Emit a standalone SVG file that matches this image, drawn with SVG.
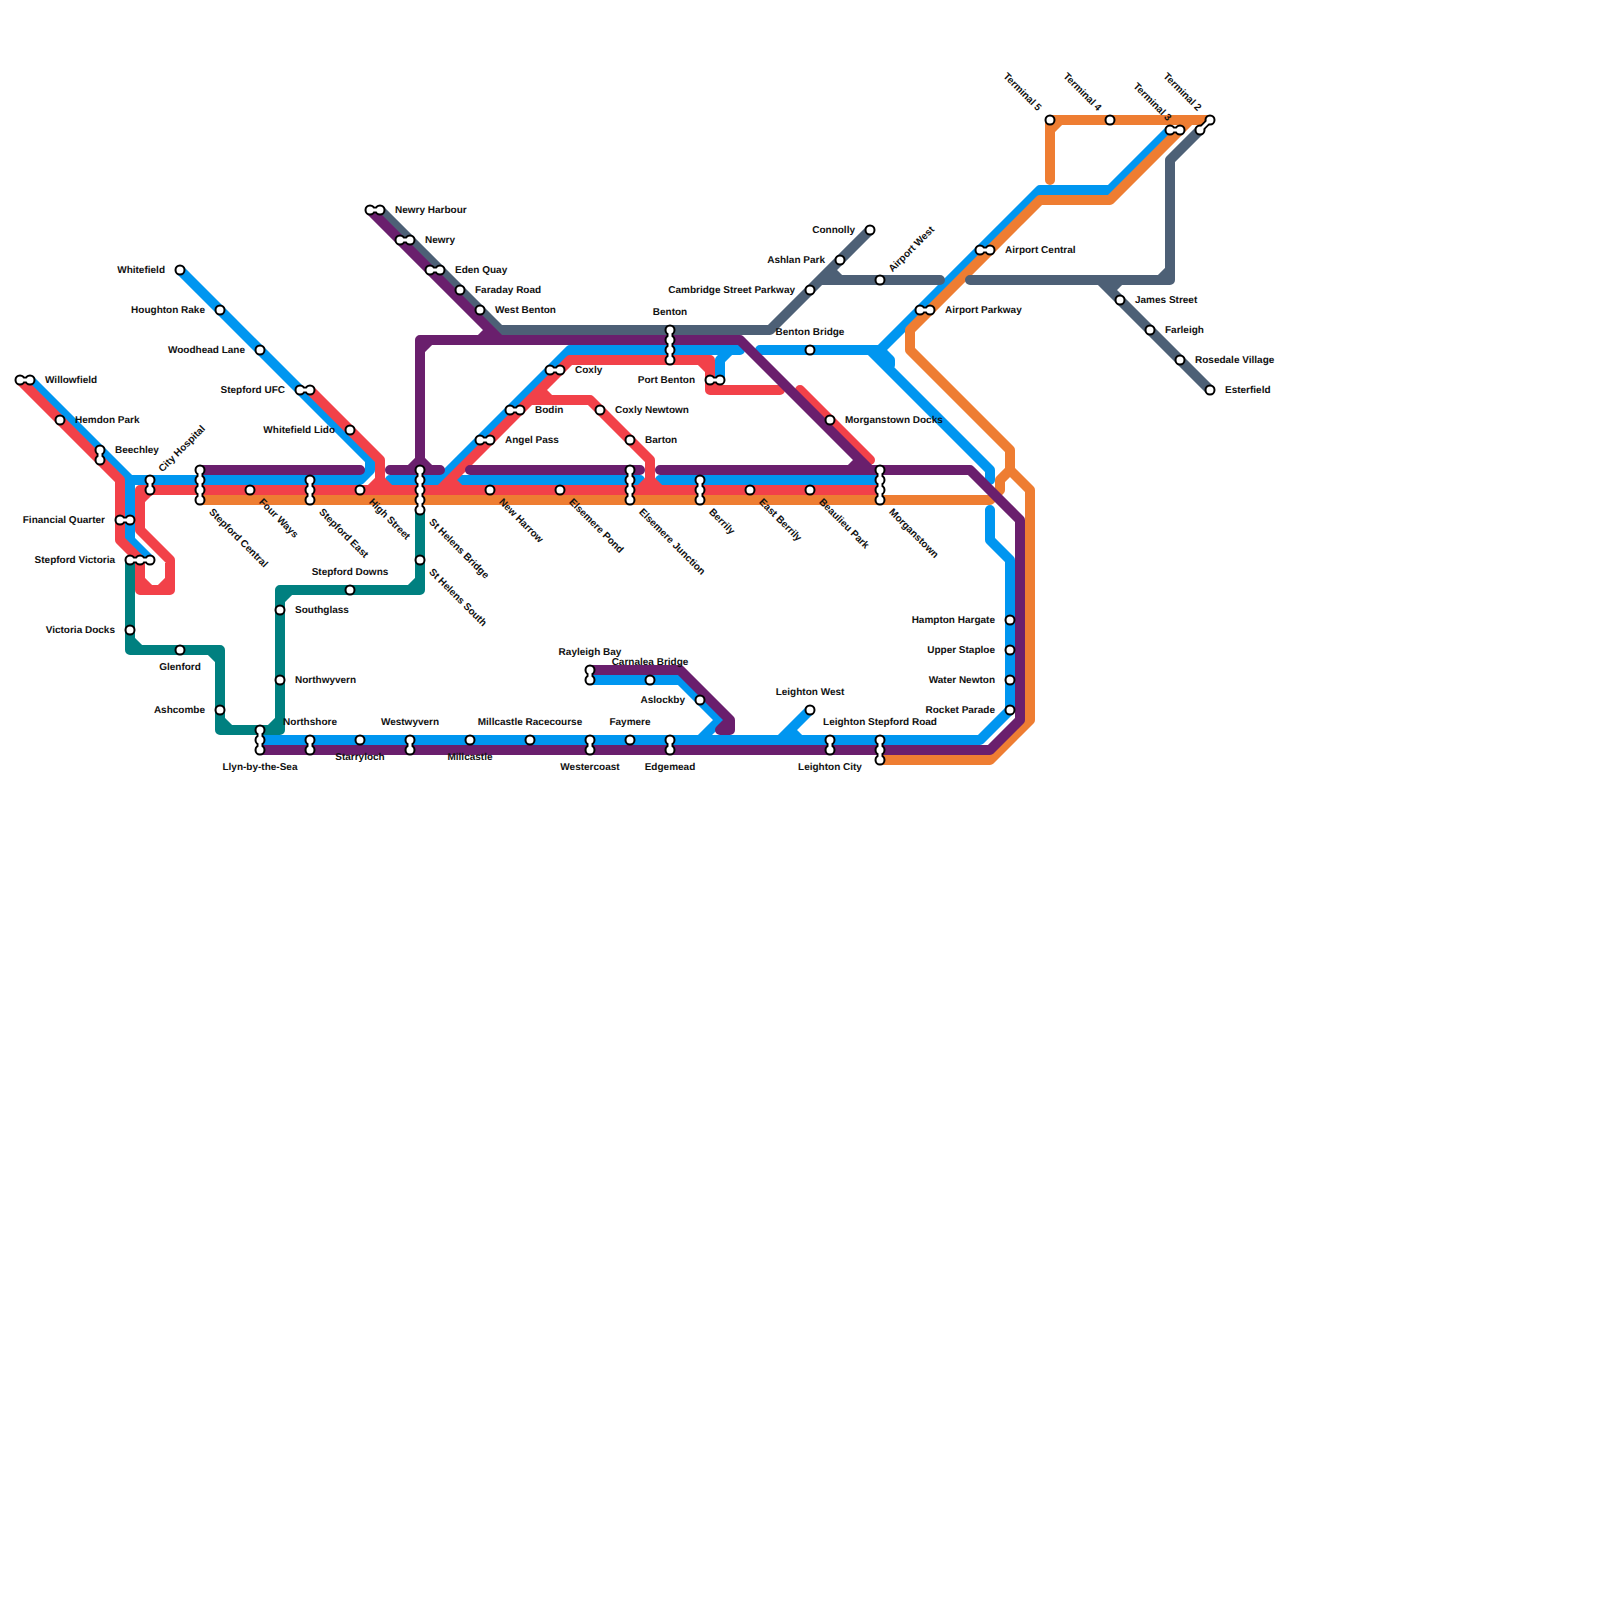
<svg xmlns="http://www.w3.org/2000/svg" width="1600" height="1600" viewBox="0 0 1600 1600">
<style>
.l{fill:none;stroke-width:10;stroke-linecap:round;stroke-linejoin:round}
.teal{stroke:#008080}.blue{stroke:#0096f0}.orange{stroke:#ee7d32}.red{stroke:#f24149}.slate{stroke:#4d6076}.purple{stroke:#6a1f6d}
.s{fill:#fff;stroke:#000;stroke-width:2}
.nb{fill:none;stroke:#000;stroke-width:6.5;stroke-linecap:round}
.nw{fill:none;stroke:#fff;stroke-width:3;stroke-linecap:round}
text{font-family:"Liberation Sans",Arial,sans-serif;font-size:10px;font-weight:700;fill:#111;text-rendering:geometricPrecision}
text:not([transform]){transform:translateY(-.5px)}
.m{text-anchor:middle}.e{text-anchor:end}
</style>
<rect width="1600" height="1600" fill="#fff"/>
<g id="connectors">
<path class="l teal" d="M130,560V650H220V730H280V590H420V510M130,640L140,650M210,650L220,660M220,720L230,730M270,730L280,720M280,600L290,590M410,590L420,580"/>
<path class="l blue" d="M30,380L130,480H360L370,470V460L180,270M130,480V540L150,560M390,480H440L570,350H740M720,380V360L730,350M460,480H640M660,480H880M760,350H880L1040,190H1110L1170,130M870,350L990,470V480M880,350L890,360V365M990,510V540L1010,560V710L980,740H260M590,680H680L720,720L700,740M810,710L780,740M790,730L800,740"/>
<path class="l orange" d="M200,500H990L1000,490V480L1010,470V450L910,350V330L1040,200H1110L1190,120M1010,470L1030,490V720L990,760H880M1050,180V120H1210M1050,130L1060,120"/>
<path class="l red" d="M20,380L120,480V540L140,560V590H170V560L140,530V490H880M140,500L150,490M140,580L150,590M160,590L170,580M310,390L380,460V490M380,480L370,490M380,480L390,490M440,490L570,360H710V390H780M450,480L460,490M700,360L710,370M710,380L720,390M530,400H590L650,460V490M540,390L550,400M650,480L640,490M650,480L660,490M800,390L870,460"/>
<path class="l slate" d="M380,210L500,330H770L870,230M820,280H940M830,270L840,280M970,280H1170V160L1200,130M1160,280L1170,270M1100,280L1210,390M1120,280L1110,290"/>
<path class="l purple" d="M200,470H360M390,470H440M420,470V340H740L870,470M410,470L420,460L430,470M420,350L430,340M370,210L500,340M490,330L480,340M470,470H640M660,470H970L1020,520V720L990,750H260M860,460L850,470M590,670H680L730,720V730H720L730,720"/>
</g>
<g id="stations">
<g id="willowfield"><path class="nb" d="M20,380H30"/><circle class="s" cx="20" cy="380" r="4.5"/><circle class="s" cx="30" cy="380" r="4.5"/><path class="nw" d="M20,380H30"/><text x="45" y="383">Willowfield</text></g>
<g id="hemdon-park"><circle class="s" cx="60" cy="420" r="4.5"/><text x="75" y="423">Hemdon Park</text></g>
<g id="beechley"><path class="nb" d="M100,450V460"/><circle class="s" cx="100" cy="450" r="4.5"/><circle class="s" cx="100" cy="460" r="4.5"/><path class="nw" d="M100,450V460"/><text x="115" y="453">Beechley</text></g>
<g id="city-hospital"><path class="nb" d="M150,480V490"/><circle class="s" cx="150" cy="480" r="4.5"/><circle class="s" cx="150" cy="490" r="4.5"/><path class="nw" d="M150,480V490"/><text transform="translate(162.500,472.500) rotate(-45)">City Hospital</text></g>
<g id="financial-quarter"><path class="nb" d="M120,520H130"/><circle class="s" cx="120" cy="520" r="4.5"/><circle class="s" cx="130" cy="520" r="4.5"/><path class="nw" d="M120,520H130"/><text class="e" x="105" y="523">Financial Quarter</text></g>
<g id="stepford-victoria"><path class="nb" d="M130,560H150"/><circle class="s" cx="130" cy="560" r="4.5"/><circle class="s" cx="140" cy="560" r="4.5"/><circle class="s" cx="150" cy="560" r="4.5"/><path class="nw" d="M130,560H150"/><text class="e" x="115" y="563">Stepford Victoria</text></g>
<g id="victoria-docks"><circle class="s" cx="130" cy="630" r="4.5"/><text class="e" x="115" y="633">Victoria Docks</text></g>
<g id="glenford"><circle class="s" cx="180" cy="650" r="4.5"/><text class="m" x="180" y="670">Glenford</text></g>
<g id="ashcombe"><circle class="s" cx="220" cy="710" r="4.5"/><text class="e" x="205" y="713">Ashcombe</text></g>
<g id="whitefield"><circle class="s" cx="180" cy="270" r="4.5"/><text class="e" x="165" y="273">Whitefield</text></g>
<g id="houghton-rake"><circle class="s" cx="220" cy="310" r="4.5"/><text class="e" x="205" y="313">Houghton Rake</text></g>
<g id="woodhead-lane"><circle class="s" cx="260" cy="350" r="4.5"/><text class="e" x="245" y="353">Woodhead Lane</text></g>
<g id="stepford-ufc"><path class="nb" d="M300,390H310"/><circle class="s" cx="300" cy="390" r="4.5"/><circle class="s" cx="310" cy="390" r="4.5"/><path class="nw" d="M300,390H310"/><text class="e" x="285" y="393">Stepford UFC</text></g>
<g id="whitefield-lido"><circle class="s" cx="350" cy="430" r="4.5"/><text class="e" x="335" y="433">Whitefield Lido</text></g>
<g id="stepford-central"><path class="nb" d="M200,470V500"/><circle class="s" cx="200" cy="470" r="4.5"/><circle class="s" cx="200" cy="480" r="4.5"/><circle class="s" cx="200" cy="490" r="4.5"/><circle class="s" cx="200" cy="500" r="4.5"/><path class="nw" d="M200,470V500"/><text transform="translate(208.500,512.500) rotate(45)">Stepford Central</text></g>
<g id="four-ways"><circle class="s" cx="250" cy="490" r="4.5"/><text transform="translate(258.500,502.500) rotate(45)">Four Ways</text></g>
<g id="stepford-east"><path class="nb" d="M310,480V500"/><circle class="s" cx="310" cy="480" r="4.5"/><circle class="s" cx="310" cy="490" r="4.5"/><circle class="s" cx="310" cy="500" r="4.5"/><path class="nw" d="M310,480V500"/><text transform="translate(318.500,512.500) rotate(45)">Stepford East</text></g>
<g id="high-street"><circle class="s" cx="360" cy="490" r="4.5"/><text transform="translate(368.500,502.500) rotate(45)">High Street</text></g>
<g id="st-helens-bridge"><path class="nb" d="M420,470V510"/><circle class="s" cx="420" cy="470" r="4.5"/><circle class="s" cx="420" cy="480" r="4.5"/><circle class="s" cx="420" cy="490" r="4.5"/><circle class="s" cx="420" cy="500" r="4.5"/><circle class="s" cx="420" cy="510" r="4.5"/><path class="nw" d="M420,470V510"/><text transform="translate(428.500,522.500) rotate(45)">St Helens Bridge</text></g>
<g id="st-helens-south"><circle class="s" cx="420" cy="560" r="4.5"/><text transform="translate(428.500,572.500) rotate(45)">St Helens South</text></g>
<g id="stepford-downs"><circle class="s" cx="350" cy="590" r="4.5"/><text class="m" x="350" y="575">Stepford Downs</text></g>
<g id="southglass"><circle class="s" cx="280" cy="610" r="4.5"/><text x="295" y="613">Southglass</text></g>
<g id="northwyvern"><circle class="s" cx="280" cy="680" r="4.5"/><text x="295" y="683">Northwyvern</text></g>
<g id="llyn-by-the-sea"><path class="nb" d="M260,730V750"/><circle class="s" cx="260" cy="730" r="4.5"/><circle class="s" cx="260" cy="740" r="4.5"/><circle class="s" cx="260" cy="750" r="4.5"/><path class="nw" d="M260,730V750"/><text class="m" x="260" y="770">Llyn-by-the-Sea</text></g>
<g id="northshore"><path class="nb" d="M310,740V750"/><circle class="s" cx="310" cy="740" r="4.5"/><circle class="s" cx="310" cy="750" r="4.5"/><path class="nw" d="M310,740V750"/><text class="m" x="310" y="725">Northshore</text></g>
<g id="starryloch"><circle class="s" cx="360" cy="740" r="4.5"/><text class="m" x="360" y="760">Starryloch</text></g>
<g id="westwyvern"><path class="nb" d="M410,740V750"/><circle class="s" cx="410" cy="740" r="4.5"/><circle class="s" cx="410" cy="750" r="4.5"/><path class="nw" d="M410,740V750"/><text class="m" x="410" y="725">Westwyvern</text></g>
<g id="millcastle"><circle class="s" cx="470" cy="740" r="4.5"/><text class="m" x="470" y="760">Millcastle</text></g>
<g id="millcastle-racecourse"><circle class="s" cx="530" cy="740" r="4.5"/><text class="m" x="530" y="725">Millcastle Racecourse</text></g>
<g id="westercoast"><path class="nb" d="M590,740V750"/><circle class="s" cx="590" cy="740" r="4.5"/><circle class="s" cx="590" cy="750" r="4.5"/><path class="nw" d="M590,740V750"/><text class="m" x="590" y="770">Westercoast</text></g>
<g id="faymere"><circle class="s" cx="630" cy="740" r="4.5"/><text class="m" x="630" y="725">Faymere</text></g>
<g id="edgemead"><path class="nb" d="M670,740V750"/><circle class="s" cx="670" cy="740" r="4.5"/><circle class="s" cx="670" cy="750" r="4.5"/><path class="nw" d="M670,740V750"/><text class="m" x="670" y="770">Edgemead</text></g>
<g id="leighton-city"><path class="nb" d="M830,740V750"/><circle class="s" cx="830" cy="740" r="4.5"/><circle class="s" cx="830" cy="750" r="4.5"/><path class="nw" d="M830,740V750"/><text class="m" x="830" y="770">Leighton City</text></g>
<g id="leighton-stepford-road"><path class="nb" d="M880,740V760"/><circle class="s" cx="880" cy="740" r="4.5"/><circle class="s" cx="880" cy="750" r="4.5"/><circle class="s" cx="880" cy="760" r="4.5"/><path class="nw" d="M880,740V760"/><text class="m" x="880" y="725">Leighton Stepford Road</text></g>
<g id="leighton-west"><circle class="s" cx="810" cy="710" r="4.5"/><text class="m" x="810" y="695">Leighton West</text></g>
<g id="rayleigh-bay"><path class="nb" d="M590,670V680"/><circle class="s" cx="590" cy="670" r="4.5"/><circle class="s" cx="590" cy="680" r="4.5"/><path class="nw" d="M590,670V680"/><text class="m" x="590" y="655">Rayleigh Bay</text></g>
<g id="carnalea-bridge"><circle class="s" cx="650" cy="680" r="4.5"/><text class="m" x="650" y="665">Carnalea Bridge</text></g>
<g id="aslockby"><circle class="s" cx="700" cy="700" r="4.5"/><text class="e" x="685" y="703">Aslockby</text></g>
<g id="hampton-hargate"><circle class="s" cx="1010" cy="620" r="4.5"/><text class="e" x="995" y="623">Hampton Hargate</text></g>
<g id="upper-staploe"><circle class="s" cx="1010" cy="650" r="4.5"/><text class="e" x="995" y="653">Upper Staploe</text></g>
<g id="water-newton"><circle class="s" cx="1010" cy="680" r="4.5"/><text class="e" x="995" y="683">Water Newton</text></g>
<g id="rocket-parade"><circle class="s" cx="1010" cy="710" r="4.5"/><text class="e" x="995" y="713">Rocket Parade</text></g>
<g id="newry-harbour"><path class="nb" d="M370,210H380"/><circle class="s" cx="370" cy="210" r="4.5"/><circle class="s" cx="380" cy="210" r="4.5"/><path class="nw" d="M370,210H380"/><text x="395" y="213">Newry Harbour</text></g>
<g id="newry"><path class="nb" d="M400,240H410"/><circle class="s" cx="400" cy="240" r="4.5"/><circle class="s" cx="410" cy="240" r="4.5"/><path class="nw" d="M400,240H410"/><text x="425" y="243">Newry</text></g>
<g id="eden-quay"><path class="nb" d="M430,270H440"/><circle class="s" cx="430" cy="270" r="4.5"/><circle class="s" cx="440" cy="270" r="4.5"/><path class="nw" d="M430,270H440"/><text x="455" y="273">Eden Quay</text></g>
<g id="faraday-road"><circle class="s" cx="460" cy="290" r="4.5"/><text x="475" y="293">Faraday Road</text></g>
<g id="west-benton"><circle class="s" cx="480" cy="310" r="4.5"/><text x="495" y="313">West Benton</text></g>
<g id="benton"><path class="nb" d="M670,330V360"/><circle class="s" cx="670" cy="330" r="4.5"/><circle class="s" cx="670" cy="340" r="4.5"/><circle class="s" cx="670" cy="350" r="4.5"/><circle class="s" cx="670" cy="360" r="4.5"/><path class="nw" d="M670,330V360"/><text class="m" x="670" y="315">Benton</text></g>
<g id="coxly"><path class="nb" d="M550,370H560"/><circle class="s" cx="550" cy="370" r="4.5"/><circle class="s" cx="560" cy="370" r="4.5"/><path class="nw" d="M550,370H560"/><text x="575" y="373">Coxly</text></g>
<g id="bodin"><path class="nb" d="M510,410H520"/><circle class="s" cx="510" cy="410" r="4.5"/><circle class="s" cx="520" cy="410" r="4.5"/><path class="nw" d="M510,410H520"/><text x="535" y="413">Bodin</text></g>
<g id="angel-pass"><path class="nb" d="M480,440H490"/><circle class="s" cx="480" cy="440" r="4.5"/><circle class="s" cx="490" cy="440" r="4.5"/><path class="nw" d="M480,440H490"/><text x="505" y="443">Angel Pass</text></g>
<g id="coxly-newtown"><circle class="s" cx="600" cy="410" r="4.5"/><text x="615" y="413">Coxly Newtown</text></g>
<g id="barton"><circle class="s" cx="630" cy="440" r="4.5"/><text x="645" y="443">Barton</text></g>
<g id="new-harrow"><circle class="s" cx="490" cy="490" r="4.5"/><text transform="translate(498.500,502.500) rotate(45)">New Harrow</text></g>
<g id="elsemere-pond"><circle class="s" cx="560" cy="490" r="4.5"/><text transform="translate(568.500,502.500) rotate(45)">Elsemere Pond</text></g>
<g id="elsemere-junction"><path class="nb" d="M630,470V500"/><circle class="s" cx="630" cy="470" r="4.5"/><circle class="s" cx="630" cy="480" r="4.5"/><circle class="s" cx="630" cy="490" r="4.5"/><circle class="s" cx="630" cy="500" r="4.5"/><path class="nw" d="M630,470V500"/><text transform="translate(638.500,512.500) rotate(45)">Elsemere Junction</text></g>
<g id="berrily"><path class="nb" d="M700,480V500"/><circle class="s" cx="700" cy="480" r="4.5"/><circle class="s" cx="700" cy="490" r="4.5"/><circle class="s" cx="700" cy="500" r="4.5"/><path class="nw" d="M700,480V500"/><text transform="translate(708.500,512.500) rotate(45)">Berrily</text></g>
<g id="east-berrily"><circle class="s" cx="750" cy="490" r="4.5"/><text transform="translate(758.500,502.500) rotate(45)">East Berrily</text></g>
<g id="beaulieu-park"><circle class="s" cx="810" cy="490" r="4.5"/><text transform="translate(818.500,502.500) rotate(45)">Beaulieu Park</text></g>
<g id="morganstown"><path class="nb" d="M880,470V500"/><circle class="s" cx="880" cy="470" r="4.5"/><circle class="s" cx="880" cy="480" r="4.5"/><circle class="s" cx="880" cy="490" r="4.5"/><circle class="s" cx="880" cy="500" r="4.5"/><path class="nw" d="M880,470V500"/><text transform="translate(888.500,512.500) rotate(45)">Morganstown</text></g>
<g id="port-benton"><path class="nb" d="M710,380H720"/><circle class="s" cx="710" cy="380" r="4.5"/><circle class="s" cx="720" cy="380" r="4.5"/><path class="nw" d="M710,380H720"/><text class="e" x="695" y="383">Port Benton</text></g>
<g id="benton-bridge"><circle class="s" cx="810" cy="350" r="4.5"/><text class="m" x="810" y="335">Benton Bridge</text></g>
<g id="cambridge-street-parkway"><circle class="s" cx="810" cy="290" r="4.5"/><text class="e" x="795" y="293">Cambridge Street Parkway</text></g>
<g id="ashlan-park"><circle class="s" cx="840" cy="260" r="4.5"/><text class="e" x="825" y="263">Ashlan Park</text></g>
<g id="connolly"><circle class="s" cx="870" cy="230" r="4.5"/><text class="e" x="855" y="233">Connolly</text></g>
<g id="airport-west"><circle class="s" cx="880" cy="280" r="4.5"/><text transform="translate(892.500,272.500) rotate(-45)">Airport West</text></g>
<g id="morganstown-docks"><circle class="s" cx="830" cy="420" r="4.5"/><text x="845" y="423">Morganstown Docks</text></g>
<g id="airport-parkway"><path class="nb" d="M920,310H930"/><circle class="s" cx="920" cy="310" r="4.5"/><circle class="s" cx="930" cy="310" r="4.5"/><path class="nw" d="M920,310H930"/><text x="945" y="313">Airport Parkway</text></g>
<g id="airport-central"><path class="nb" d="M980,250H990"/><circle class="s" cx="980" cy="250" r="4.5"/><circle class="s" cx="990" cy="250" r="4.5"/><path class="nw" d="M980,250H990"/><text x="1005" y="253">Airport Central</text></g>
<g id="terminal-5"><circle class="s" cx="1050" cy="120" r="4.5"/><text class="e" transform="translate(1037.500,111.500) rotate(45)">Terminal 5</text></g>
<g id="terminal-4"><circle class="s" cx="1110" cy="120" r="4.5"/><text class="e" transform="translate(1097.500,111.500) rotate(45)">Terminal 4</text></g>
<g id="terminal-3"><path class="nb" d="M1170,130H1180"/><circle class="s" cx="1170" cy="130" r="4.5"/><circle class="s" cx="1180" cy="130" r="4.5"/><path class="nw" d="M1170,130H1180"/><text class="e" transform="translate(1167.500,121.500) rotate(45)">Terminal 3</text></g>
<g id="terminal-2"><path class="nb" d="M1200,130L1210,120"/><circle class="s" cx="1200" cy="130" r="4.5"/><circle class="s" cx="1210" cy="120" r="4.5"/><path class="nw" d="M1200,130L1210,120"/><text class="e" transform="translate(1197.500,111.500) rotate(45)">Terminal 2</text></g>
<g id="james-street"><circle class="s" cx="1120" cy="300" r="4.5"/><text x="1135" y="303">James Street</text></g>
<g id="farleigh"><circle class="s" cx="1150" cy="330" r="4.5"/><text x="1165" y="333">Farleigh</text></g>
<g id="rosedale-village"><circle class="s" cx="1180" cy="360" r="4.5"/><text x="1195" y="363">Rosedale Village</text></g>
<g id="esterfield"><circle class="s" cx="1210" cy="390" r="4.5"/><text x="1225" y="393">Esterfield</text></g>
</g>
</svg>
